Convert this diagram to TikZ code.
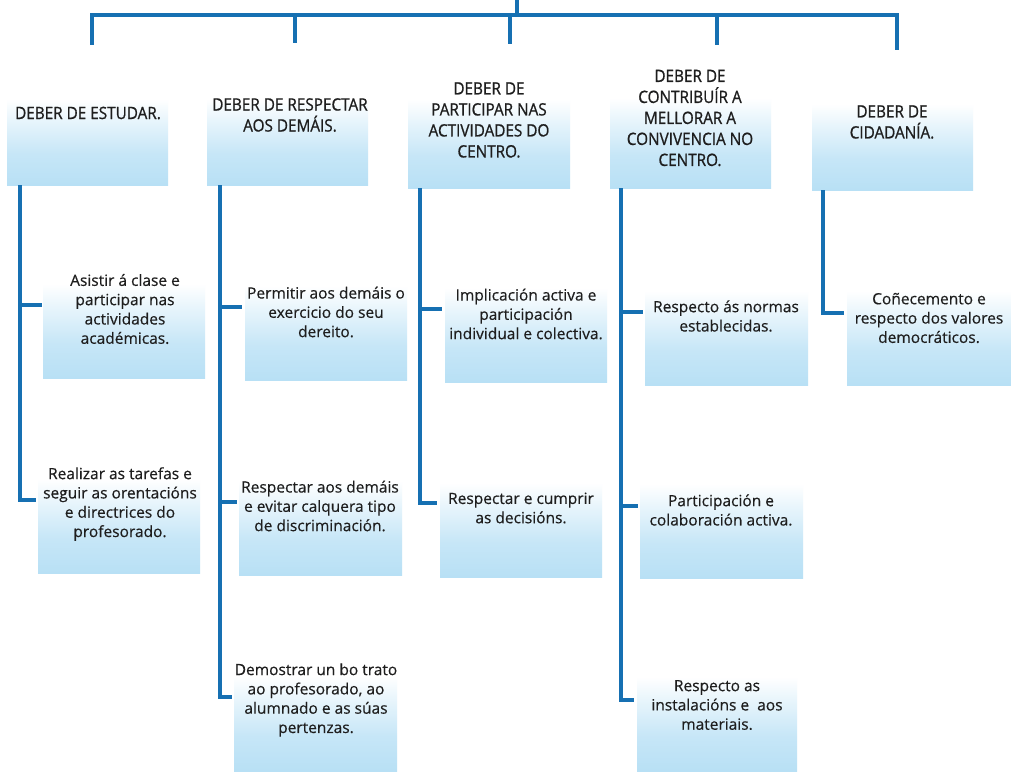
\documentclass[tikz,border=0pt]{standalone}
\usepackage{fontspec}
\setmainfont{Open Sans}[FakeBold=0.4]
\newfontfamily\hdrfont{Open Sans}[FakeStretch=0.9, FakeBold=0.9]
\usetikzlibrary{calc}
\definecolor{linkblue}{RGB}{22,112,178}
\definecolor{boxblue}{RGB}{184,224,245}
\definecolor{inkgray}{RGB}{30,30,30}
\pgfdeclareverticalshading{boxfade}{100bp}{color(0bp)=(boxblue); color(25bp)=(boxblue); color(40bp)=(boxblue!80!white); color(55bp)=(boxblue!35!white); color(66bp)=(white); color(100bp)=(white)}
\tikzset{
  x=1pt, y={(0pt,-1pt)},
  conn/.style={draw=linkblue, line width=4pt, line join=miter},
  fadebox/.style={rectangle, inner sep=0pt, shade, shading=boxfade},
  hdrtext/.style={align=center, inner sep=0pt, text=inkgray, font=\hdrfont\fontsize{17}{21}\selectfont},
  kidtext/.style={align=center, inner sep=0pt, text=inkgray, font=\fontsize{15.5}{19.3}\selectfont},
}
\newcommand{\mkbox}[5]{% name, left, top, right, bottom
  \node[fadebox, minimum width=#4-#2, minimum height=#5-#3] (#1) at ({(#2+#4)/2},{(#3+#5)/2}) {};}
\begin{document}
\begin{tikzpicture}
\useasboundingbox (0,0) rectangle (1011,771);
\fill[white] (0,0) rectangle (1011,771);

% header boxes
\mkbox{h1b}{7}{80}{168}{185}
\mkbox{h2b}{207}{80}{368}{185}
\mkbox{h3b}{408}{80}{570}{188}
\mkbox{h4b}{610}{78}{771}{188}
\mkbox{h5b}{812}{85}{973}{190}

\node[hdrtext] (h1) at (88,113) {DEBER DE ESTUDAR.};
\node[hdrtext] (h2) at (290,115) {DEBER DE RESPECTAR\\AOS DEMÁIS.};
\node[hdrtext] (h3) at (489,120) {DEBER DE\\PARTICIPAR NAS\\ACTIVIDADES DO\\CENTRO.};
\node[hdrtext] (h4) at (690,118) {DEBER DE\\CONTRIBUÍR A\\MELLORAR A\\CONVIVENCIA NO\\CENTRO.};
\node[hdrtext] (h5) at (892,122) {DEBER DE\\CIDADANÍA.};

% child boxes
\mkbox{c11b}{43}{263}{205}{378}
\mkbox{c12b}{38}{458}{200}{573}
\mkbox{c21b}{245}{265}{407}{380}
\mkbox{c22b}{239}{460}{402}{575}
\mkbox{c23b}{234}{655}{397}{771}
\mkbox{c31b}{445}{267}{607}{382}
\mkbox{c32b}{440}{462}{602}{577}
\mkbox{c41b}{645}{270}{808}{385}
\mkbox{c42b}{640}{463}{803}{578}
\mkbox{c43b}{637}{656}{797}{771}
\mkbox{c51b}{847}{270}{1011}{385}

\node[kidtext] (c11) at (125,309) {Asistir á clase e\\participar nas\\actividades\\académicas.};
\node[kidtext] (c12) at (120,504) {Realizar as tarefas e\\seguir as orentacións\\e directrices do\\profesorado.};
\node[kidtext] (c21) at (326,312) {Permitir aos demáis o\\exercicio do seu\\dereito.};
\node[kidtext] (c22) at (320,506) {Respectar aos demáis\\e evitar calquera tipo\\de discriminación.};
\node[kidtext] (c23) at (316,700) {Demostrar un bo trato\\ao profesorado, ao\\alumnado e as súas\\pertenzas.};
\node[kidtext] (c31) at (526,314) {Implicación activa e\\participación\\individual e colectiva.};
\node[kidtext] (c32) at (521,508) {Respectar e cumprir\\as decisións.};
\node[kidtext] (c41) at (726,316) {Respecto ás normas\\establecidas.};
\node[kidtext] (c42) at (721,510) {Participación e\\colaboración activa.};
\node[kidtext] (c43) at (717,705) {Respecto as\\instalacións e \ aos\\materiais.};
\node[kidtext] (c51) at (929,318) {Coñecemento e\\respecto dos valores\\democráticos.};

% top tree
\coordinate (root) at (517,0);
\coordinate (bar) at (517,15);
\coordinate (d1) at ($(h1b.north west)+(85,-35)$);
\coordinate (d2) at ($(h2b.north west)+(88,-37)$);
\coordinate (d3) at ($(h3b.north west)+(102,-36)$);
\coordinate (d4) at ($(h4b.north west)+(107,-33)$);
\coordinate (d5) at ($(h5b.north west)+(85,-35)$);
\draw[conn] (root) -- (bar) -| (d1);
\draw[conn] (bar) -| (d5);
\foreach \d in {d2,d3,d4} \draw[conn] (\d |- bar) -- (\d);

% trunks
\coordinate (t1) at ($(h1b.south west)+(13,0)$);
\coordinate (t2) at ($(h2b.south west)+(13,0)$);
\coordinate (t3) at ($(h3b.south west)+(12,0)$);
\coordinate (t4) at ($(h4b.south west)+(11,0)$);
\coordinate (t5) at ($(h5b.south west)+(11,0)$);

\draw[conn] (t1) |- ($(c12b.west|-c12.center)+(-2,-4)$);
\draw[conn] (t1 |- c11.center) ++(0,-4) -- ($(c11b.west|-c11.center)+(-1,-4)$);
\draw[conn] (t2) |- ($(c23b.west|-c23.center)+(-2,-3)$);
\draw[conn] (t2 |- c21.center) ++(0,-5) -- ($(c21b.west|-c21.center)+(-3,-5)$);
\draw[conn] (t2 |- c22.center) ++(0,-4) -- ($(c22b.west|-c22.center)+(-2,-4)$);
\draw[conn] (t3) |- ($(c32b.west|-c32.center)+(-3,-5)$);
\draw[conn] (t3 |- c31.center) ++(0,-5) -- ($(c31b.west|-c31.center)+(-3,-5)$);
\draw[conn] (t4) |- ($(c43b.west|-c43.center)+(-3,-5)$);
\draw[conn] (t4 |- c41.center) ++(0,-4) -- ($(c41b.west|-c41.center)+(-2,-4)$);
\draw[conn] (t4 |- c42.center) ++(0,-4) -- ($(c42b.west|-c42.center)+(-2,-4)$);
\draw[conn] (t5) |- ($(c51b.west|-c51.center)+(-3,-5)$);
\end{tikzpicture}
\end{document}
